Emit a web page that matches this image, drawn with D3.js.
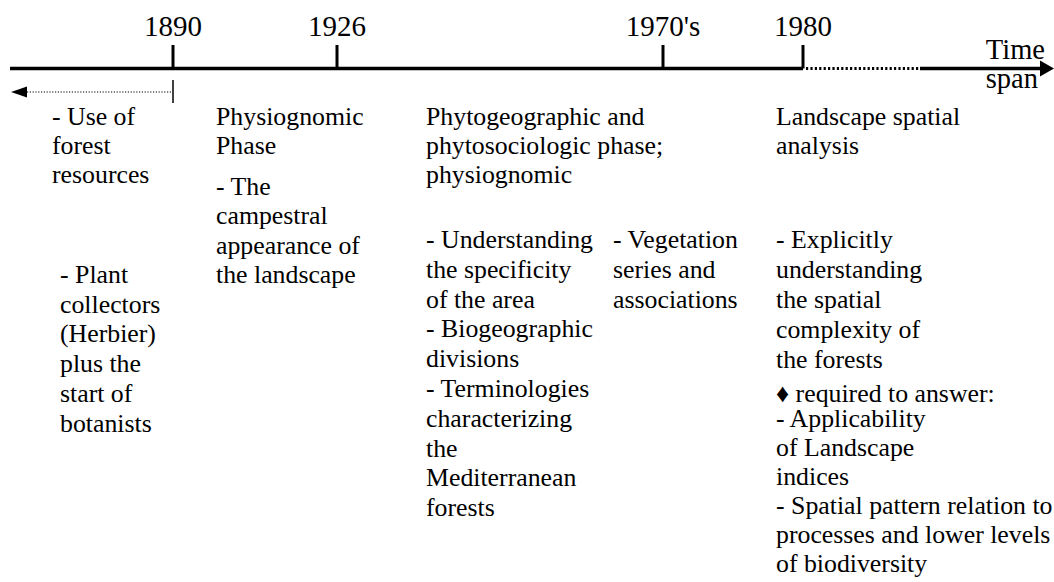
<!DOCTYPE html>
<html>
<head>
<meta charset="utf-8">
<script src="https://cdn.jsdelivr.net/npm/d3@7"></script>
<style>
  body { margin: 0; background: #fff; }
</style>
</head>
<body>
<script>
// timeline data
const yearLabels = ["1890", "1926", "1970's", "1980"];
const yearValues = [1890, 1926, 1970, 1980];

// text blocks under the timeline
const preUse = ["- Use of", "forest", "resources"];
const preCollectors = ["- Plant", "collectors", "(Herbier)", "plus the", "start of", "botanists"];
const physTitle = ["Physiognomic", "Phase"];
const physItems = ["- The", "campestral", "appearance of", "the landscape"];
const phytoTitle = ["Phytogeographic and", "phytosociologic phase;", "physiognomic"];
const phytoItems = ["- Understanding", "the specificity", "of the area", "- Biogeographic", "divisions",
    "- Terminologies", "characterizing", "the", "Mediterranean", "forests"];
const phytoSeries = ["- Vegetation", "series and", "associations"];
const landTitle = ["Landscape spatial", "analysis"];
const landItems = ["- Explicitly", "understanding", "the spatial", "complexity of", "the forests"];
const landNote = ["\u2666 required to answer:"];
const landNeeds = ["- Applicability", "of Landscape", "indices", "- Spatial pattern relation to",
    "processes and lower levels", "of biodiversity"];

const width = 1054;
const height = 582;
const axisY = 68.5;
const serif = "'Liberation Serif', 'Times New Roman', serif";

// piecewise scale: the timeline is not drawn to time proportion
const x = d3.scaleLinear()
    .domain(yearValues)
    .range([173, 337, 663, 803]);

const svg = d3.select("body")
    .append("svg")
    .attr("width", width)
    .attr("height", height)
    .attr("font-family", serif);

// main axis, solid part
svg.append("line")
    .attr("x1", 10).attr("x2", x(1980))
    .attr("y1", axisY).attr("y2", axisY)
    .attr("stroke", "#000").attr("stroke-width", 3.5);

// dotted continuation after 1980
svg.append("line")
    .attr("x1", x(1980) + 3).attr("x2", 920)
    .attr("y1", axisY).attr("y2", axisY)
    .attr("stroke", "#000").attr("stroke-width", 3)
    .attr("stroke-dasharray", "2.2,2.2");

// solid end with arrow
svg.append("line")
    .attr("x1", 920).attr("x2", 1042)
    .attr("y1", axisY).attr("y2", axisY)
    .attr("stroke", "#000").attr("stroke-width", 3.5);
svg.append("path")
    .attr("d", `M1040,${axisY - 8}L1054,${axisY}L1040,${axisY + 8}Z`)
    .attr("fill", "#000");

// year ticks and labels
svg.selectAll(".tick")
    .data(yearValues)
    .enter()
    .append("line")
    .attr("class", "tick")
    .attr("x1", d => x(d)).attr("x2", d => x(d))
    .attr("y1", 45).attr("y2", axisY)
    .attr("stroke", "#000").attr("stroke-width", 3);

svg.selectAll(".year")
    .data(yearValues)
    .enter()
    .append("text")
    .attr("class", "year")
    .attr("x", d => x(d))
    .attr("y", 36)
    .attr("text-anchor", "middle")
    .style("font-family", serif)
    .style("font-size", "29px")
    .text((d, i) => yearLabels[i]);

// axis title
svg.append("text")
    .attr("x", 1045).attr("y", 59)
    .attr("text-anchor", "end")
    .style("font-family", serif)
    .style("font-size", "28.5px")
    .text("Time");
svg.append("text")
    .attr("x", 1038).attr("y", 88)
    .attr("text-anchor", "end")
    .style("font-family", serif)
    .style("font-size", "28.5px")
    .text("span");

// back-in-time marker before 1890
svg.append("line")
    .attr("x1", x(1890)).attr("x2", x(1890))
    .attr("y1", 80).attr("y2", 103)
    .attr("stroke", "#000").attr("stroke-width", 1.5);
svg.append("line")
    .attr("x1", x(1890) - 2).attr("x2", 26)
    .attr("y1", 92).attr("y2", 92)
    .attr("stroke", "#000").attr("stroke-width", 1.2)
    .attr("stroke-dasharray", "1.2,1.6");
svg.append("path")
    .attr("d", "M11,92L27,86.5L27,97.5Z")
    .attr("fill", "#000");

// text blocks: lines, left x, first baseline, line height
const blocks = [
    { lines: preUse, x: 52, y: 125, lh: 29 },
    { lines: preCollectors, x: 60, y: 283, lh: 29.7 },
    { lines: physTitle, x: 216, y: 125, lh: 29 },
    { lines: physItems, x: 216, y: 195, lh: 29.3 },
    { lines: phytoTitle, x: 426, y: 125, lh: 29 },
    { lines: phytoItems, x: 426, y: 248, lh: 29.8 },
    { lines: phytoSeries, x: 613, y: 248, lh: 29.8 },
    { lines: landTitle, x: 776, y: 125, lh: 29 },
    { lines: landItems, x: 776, y: 248, lh: 30 },
    { lines: landNote, x: 776, y: 402, lh: 29 },
    { lines: landNeeds, x: 776, y: 427, lh: 29 }
];

blocks.forEach(b => {
    svg.append("g")
        .selectAll("text")
        .data(b.lines)
        .enter()
        .append("text")
        .attr("x", b.x)
        .attr("y", (d, i) => b.y + i * b.lh)
        .style("font-family", serif)
        .style("font-size", "25.8px")
        .text(d => d);
});
</script>
</body>
</html>
